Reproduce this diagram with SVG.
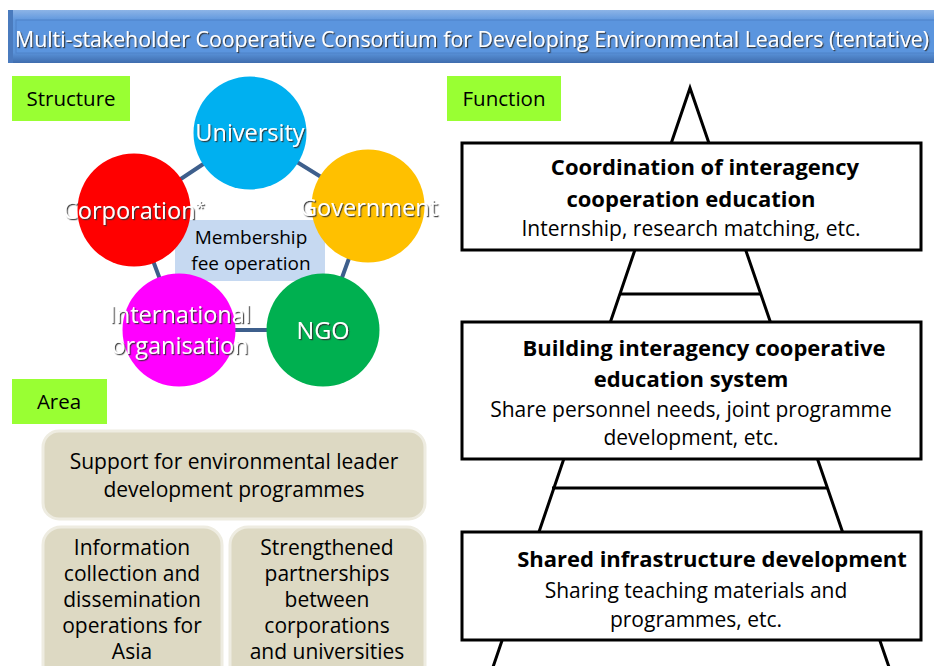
<svg xmlns="http://www.w3.org/2000/svg" width="934" height="666" viewBox="0 0 934 666">
<defs>
<style>
text{font-family:"Open Sans",Lato,"Liberation Sans",sans-serif;}
.lbl{font-size:21px;fill:#000;}
.tg{font-size:20.5px;fill:#000;text-anchor:middle;}
.ctr{text-anchor:middle;}
.ct{font-size:23.5px;fill:#fff;filter:url(#sh);}
.area{fill:#DDD9C3;stroke:#EEECE1;stroke-width:3;}
.tag{fill:#99FF33;}
.fbox{fill:#fff;stroke:#000;stroke-width:3;}
.pyr{fill:none;stroke:#000;stroke-width:3;}
.b{font-size:22px;font-weight:bold;text-anchor:middle;}
.n{font-size:21px;text-anchor:middle;}
.edge{stroke:#3E5F8C;stroke-width:4;fill:none;}
</style>
<filter id="sh" x="-10%" y="-30%" width="130%" height="160%">
<feDropShadow dx="1.2" dy="1.2" stdDeviation="0.6" flood-color="#333" flood-opacity="0.9"/>
</filter>
<linearGradient id="tg" x1="0" y1="0" x2="0" y2="1">
<stop offset="0" stop-color="#8DB4E6"/>
<stop offset="0.2" stop-color="#5E97DE"/>
<stop offset="0.8" stop-color="#5A93DA"/>
<stop offset="1" stop-color="#3F6DAE"/>
</linearGradient>
</defs>

<g id="title">
<rect x="8" y="10" width="930" height="53" fill="url(#tg)"/>
<rect x="8" y="10" width="5" height="53" fill="#4A7BBE"/>
<rect x="16" y="20" width="920" height="33" fill="#5B95DE" stroke="#4E82C8" stroke-width="1"/>
<text x="472" y="46.5" font-size="21" fill="#fff" text-anchor="middle" filter="url(#sh)" textLength="914" lengthAdjust="spacingAndGlyphs">Multi-stakeholder Cooperative Consortium for Developing Environmental Leaders (tentative)</text>
</g>

<g id="tag-structure"><rect class="tag" x="12" y="76" width="118" height="45"/><text class="tg" x="71" y="106">Structure</text></g>
<g id="tag-function"><rect class="tag" x="447" y="76" width="114" height="45"/><text class="tg" x="504" y="106">Function</text></g>
<g id="tag-area"><rect class="tag" x="12" y="379" width="95" height="45"/><text class="tg" x="59" y="409">Area</text></g>

<g id="connectors">
<path class="edge" d="M250,133 L368,206 L323,330 L179,330 L134,210 Z"/>
</g>

<g id="membership"><rect x="175" y="220" width="150" height="61" fill="#C6D9F1"/>
<text class="ctr" x="251" y="244" font-size="19">Membership</text>
<text class="ctr" x="251" y="270" font-size="19">fee operation</text></g>

<g id="university"><circle cx="250" cy="133" r="56.5" fill="#00B0F0"/><text class="ct ctr" x="250" y="141">University</text></g>
<g id="corporation"><circle cx="134" cy="210" r="56.5" fill="#FF0000"/><text class="ct" x="63" y="219">Corporation<tspan font-size="17" dy="-6">*</tspan></text></g>
<g id="government"><circle cx="368" cy="206" r="56.5" fill="#FFC000"/><text class="ct ctr" x="369" y="216">Government</text></g>
<g id="ngo"><circle cx="323" cy="330" r="56.5" fill="#00B050"/><text class="ct ctr" x="323" y="339">NGO</text></g>
<g id="international"><circle cx="179" cy="330" r="56.5" fill="#FF00FF"/><text class="ct ctr" x="180" y="323">International</text><text class="ct ctr" x="180" y="354">organisation</text></g>

<g id="area-support"><rect class="area" x="43" y="431" width="382" height="88" rx="16"/>
<text class="lbl ctr" x="234" y="469">Support for environmental leader</text>
<text class="lbl ctr" x="234" y="497">development programmes</text></g>
<g id="area-info"><rect class="area" x="43" y="527" width="179" height="160" rx="18"/>
<text class="lbl ctr" x="132" y="555">Information</text>
<text class="lbl ctr" x="132" y="581">collection and</text>
<text class="lbl ctr" x="132" y="607">dissemination</text>
<text class="lbl ctr" x="132" y="633">operations for</text>
<text class="lbl ctr" x="132" y="659">Asia</text></g>
<g id="area-partner"><rect class="area" x="230" y="527" width="195" height="160" rx="18"/>
<text class="lbl ctr" x="327" y="555">Strengthened</text>
<text class="lbl ctr" x="327" y="581">partnerships</text>
<text class="lbl ctr" x="327" y="607">between</text>
<text class="lbl ctr" x="327" y="633">corporations</text>
<text class="lbl ctr" x="327" y="659">and universities</text></g>

<g id="pyramid">
<path class="pyr" d="M492,670 L690,88 L890,670"/>
<line class="pyr" x1="619" y1="294" x2="761" y2="294"/>
<line class="pyr" x1="552" y1="488" x2="828" y2="488"/>
</g>

<g id="func-coordination"><rect class="fbox" x="462" y="143" width="459" height="107"/>
<text class="b" x="705" y="175">Coordination of interagency</text>
<text class="b" x="691" y="207">cooperation education</text>
<text class="n" x="691" y="236">Internship, research matching, etc.</text></g>
<g id="func-building"><rect class="fbox" x="462" y="322" width="459" height="137"/>
<text class="b" x="704" y="356">Building interagency cooperative</text>
<text class="b" x="691" y="387">education system</text>
<text class="n" x="691" y="417">Share personnel needs, joint programme</text>
<text class="n" x="691" y="445">development, etc.</text></g>
<g id="func-shared"><rect class="fbox" x="462" y="532" width="459" height="108"/>
<text class="b" x="712" y="567">Shared infrastructure development</text>
<text class="n" x="696" y="598">Sharing teaching materials and</text>
<text class="n" x="696" y="627">programmes, etc.</text></g>
</svg>
